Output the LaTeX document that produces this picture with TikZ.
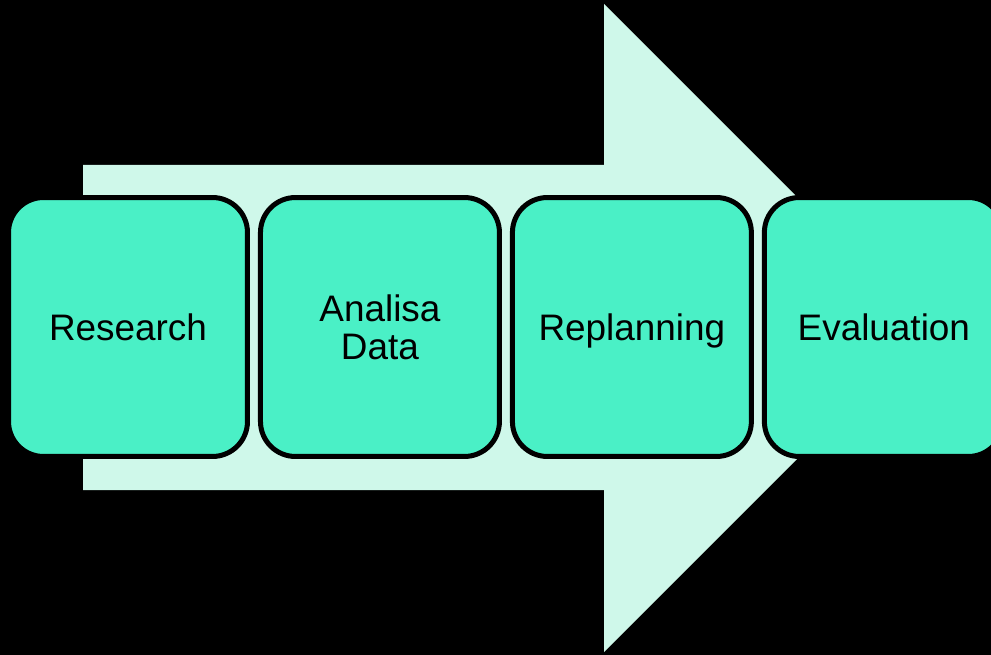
\documentclass[tikz,border=0pt]{standalone}
\usepackage{fontspec}
\setmainfont{Liberation Sans}
\usepackage{xcolor}
\usetikzlibrary{positioning}
\definecolor{stepfill}{HTML}{4AF0C6}
\definecolor{arrowfill}{HTML}{CFF8EA}

\begin{document}
\begin{tikzpicture}[x=0.02cm,y=-0.02cm,
stepbox/.style={draw=black,line width=0.1cm,fill=stepfill,rounded corners=0.7cm,
    minimum width=4.78cm,minimum height=5.18cm,inner sep=0pt,align=center,
    font=\fontsize{21}{21.6}\selectfont},
node distance=0.16cm]
\path[use as bounding box,fill=black] (0,0) rectangle (991,655);
\fill[arrowfill] (83,165) -- (604,165) -- (604,4) -- (928,328)
    -- (604,652) -- (604,490) -- (83,490) -- cycle;
\node (research) [stepbox] at (128,327) {Research};
\node (analisa) [stepbox,right=of research] {Analisa\\Data};
\node (replan) [stepbox,right=of analisa,text depth=0pt] {Replanning};
\node (eval) [stepbox,right=of replan] {Evaluation};
\end{tikzpicture}
\end{document}
